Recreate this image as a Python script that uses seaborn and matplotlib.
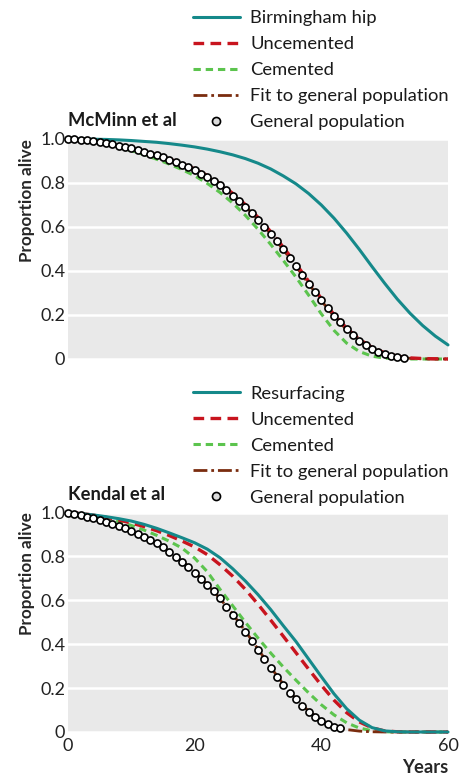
import numpy as np
import pandas as pd
import matplotlib
matplotlib.use("Agg")
import matplotlib.pyplot as plt
from matplotlib.lines import Line2D
import seaborn as sns

# years
dot_years_top = list(range(0, 54))
dot_years_bot = list(range(0, 44))
line_years = list(range(0, 61, 2))

# McMinn et al (top panel)
top_dots = [1.000, 0.999, 0.997, 0.994, 0.990, 0.986, 0.981, 0.976, 0.970, 0.964,
            0.957, 0.950, 0.942, 0.934, 0.925, 0.916, 0.906, 0.895, 0.884, 0.872,
            0.859, 0.843, 0.827, 0.809, 0.789, 0.766, 0.741, 0.716, 0.690, 0.663,
            0.634, 0.602, 0.568, 0.535, 0.500, 0.460, 0.422, 0.384, 0.343, 0.306,
            0.268, 0.233, 0.196, 0.166, 0.138, 0.110, 0.083, 0.063, 0.046, 0.032,
            0.021, 0.014, 0.009, 0.005]
top_bhr = [1.000, 1.000, 0.999, 0.998, 0.996, 0.993, 0.989, 0.985, 0.979, 0.972,
           0.964, 0.954, 0.942, 0.928, 0.911, 0.890, 0.864, 0.832, 0.796, 0.752,
           0.700, 0.640, 0.572, 0.498, 0.420, 0.344, 0.272, 0.208, 0.152, 0.104, 0.064]
top_unc = [1.000, 0.997, 0.991, 0.982, 0.971, 0.958, 0.944, 0.928, 0.909, 0.888,
           0.864, 0.834, 0.797, 0.753, 0.702, 0.644, 0.579, 0.508, 0.432, 0.353,
           0.275, 0.202, 0.140, 0.090, 0.053, 0.028, 0.013, 0.005, 0.002, 0.001, 0.000]
top_cem = [1.000, 0.995, 0.987, 0.976, 0.963, 0.947, 0.929, 0.908, 0.886, 0.861,
           0.833, 0.798, 0.757, 0.709, 0.653, 0.590, 0.521, 0.448, 0.372, 0.290,
           0.205, 0.130, 0.072, 0.034, 0.013, 0.004, 0.001, 0.000, 0.000, 0.000, 0.000]
top_fit = [1.000, 0.997, 0.990, 0.981, 0.970, 0.957, 0.942, 0.925, 0.906, 0.884,
           0.859, 0.829, 0.791, 0.746, 0.694, 0.635, 0.569, 0.497, 0.421, 0.342,
           0.265, 0.194, 0.133, 0.084, 0.048, 0.024, 0.010, 0.003, 0.001, 0.000, 0.000]

# Kendal et al (bottom panel)
bot_dots = [1.000, 0.995, 0.989, 0.981, 0.973, 0.966, 0.958, 0.949, 0.940, 0.929,
            0.916, 0.903, 0.890, 0.875, 0.860, 0.841, 0.821, 0.799, 0.776, 0.750,
            0.723, 0.697, 0.669, 0.641, 0.609, 0.571, 0.533, 0.495, 0.457, 0.415,
            0.374, 0.331, 0.290, 0.252, 0.214, 0.179, 0.149, 0.120, 0.092, 0.070,
            0.050, 0.035, 0.024, 0.017]
bot_res = [1.000, 0.995, 0.989, 0.981, 0.972, 0.961, 0.946, 0.928, 0.907, 0.885,
           0.862, 0.833, 0.794, 0.744, 0.688, 0.626, 0.558, 0.484, 0.412, 0.332,
           0.252, 0.174, 0.106, 0.054, 0.020, 0.005, 0.001, 0.000, 0.000, 0.000, 0.000]
bot_unc = [1.000, 0.996, 0.988, 0.978, 0.966, 0.952, 0.936, 0.917, 0.895, 0.870,
           0.843, 0.808, 0.762, 0.710, 0.650, 0.582, 0.510, 0.436, 0.361, 0.286,
           0.213, 0.145, 0.088, 0.046, 0.019, 0.005, 0.001, 0.000, 0.000, 0.000, 0.000]
bot_cem = [1.000, 0.995, 0.986, 0.974, 0.959, 0.941, 0.920, 0.896, 0.869, 0.838,
           0.792, 0.730, 0.650, 0.575, 0.500, 0.428, 0.360, 0.296, 0.236, 0.178,
           0.124, 0.078, 0.042, 0.018, 0.006, 0.001, 0.000, 0.000, 0.000, 0.000, 0.000]
bot_fit = [1.000, 0.990, 0.975, 0.958, 0.939, 0.916, 0.889, 0.858, 0.822, 0.779,
           0.729, 0.672, 0.608, 0.537, 0.460, 0.378, 0.295, 0.218, 0.150, 0.095,
           0.054, 0.027, 0.011, 0.004, 0.001, 0.000, 0.000, 0.000, 0.000, 0.000, 0.000]

y_ticks = [0, 0.2, 0.4, 0.6, 0.8, 1.0]
y_ticklabels = ["0", "0.2", "0.4", "0.6", "0.8", "1.0"]
x_ticks = [0, 20, 40, 60]

TEAL = "#15898a"
RED = "#c8141e"
GREEN = "#5cc44e"
BROWN = "#7a2c0e"
BG = "#e9e9e9"
DOTFACE = "#dcdcdc"
FS = 13.2

sns.set_theme(style="white")
plt.rcParams["font.family"] = ["Lato", "DejaVu Sans"]
plt.rcParams["text.color"] = "#1a1a1a"

fig = plt.figure(figsize=(4.59, 7.8), dpi=100)
ax_top = fig.add_axes([68 / 459, 1 - 359 / 780, 380 / 459, 220 / 780])
ax_bot = fig.add_axes([68 / 459, 1 - 732 / 780, 380 / 459, 219.5 / 780])

red_ls = (0, (3.2, 1.9))
green_ls = (0, (2.4, 1.6))
brown_ls = (0, (5.0, 1.4, 1.0, 1.4))


def draw_panel(ax, first, unc, cem, fit, dx, dots, title, first_label):
    ax.set_facecolor(BG)
    sns.lineplot(x=line_years, y=cem, ax=ax, color=GREEN, lw=2.2, linestyle=green_ls, clip_on=False, zorder=2)
    sns.lineplot(x=line_years, y=fit, ax=ax, color=BROWN, lw=2.0, linestyle=brown_ls, clip_on=False, zorder=3)
    sns.lineplot(x=line_years, y=unc, ax=ax, color=RED, lw=2.4, linestyle=red_ls, clip_on=False, zorder=4)
    sns.lineplot(x=line_years, y=first, ax=ax, color=TEAL, lw=2.2, clip_on=False, zorder=5)
    sns.scatterplot(x=dx, y=dots, ax=ax, s=26, color="white", edgecolor="black",
                    linewidth=1.2, clip_on=False, zorder=6)
    ax.set_xlim(0, 60)
    ax.set_ylim(0, 1.0)
    ax.set_yticks(y_ticks)
    ax.set_yticklabels(y_ticklabels)
    ax.set_xticks(x_ticks)
    ax.grid(axis="y", color="white", lw=1.8)
    ax.set_axisbelow(True)
    for s in ax.spines.values():
        s.set_visible(False)
    ax.tick_params(axis="y", length=0, pad=2, labelsize=13, labelcolor="#222222")
    ax.tick_params(axis="x", direction="in", length=4, width=1, color="white",
                   labelsize=13, labelcolor="#222222", pad=4)
    ax.set_ylabel("Proportion alive", fontsize=12.3, fontweight="bold", loc="top", labelpad=4)
    ax.text(0, 1.082, title, transform=ax.transAxes, fontsize=FS, fontweight="bold",
            va="center", ha="left")

    handles = [
        Line2D([], [], color=TEAL, lw=2.2),
        Line2D([], [], color=RED, lw=2.4, linestyle=red_ls),
        Line2D([], [], color=GREEN, lw=2.2, linestyle=green_ls),
        Line2D([], [], color=BROWN, lw=2.0, linestyle=brown_ls),
        Line2D([], [], ls="none", marker="o", markersize=5.8, markerfacecolor=DOTFACE,
               markeredgecolor="black", markeredgewidth=1.2),
    ]
    labels = [first_label, "Uncemented", "Cemented", "Fit to general population",
              "General population"]
    return handles, labels


h, l = draw_panel(ax_top, top_bhr, top_unc, top_cem, top_fit, dot_years_top, top_dots,
                  "McMinn et al", "Birmingham hip")
ax_top.set_xticklabels([])
ax_top.set_xlabel("")
fig.legend(h, l, loc="upper left", bbox_to_anchor=(193 / 459, 1 - 10 / 780),
           frameon=False, fontsize=FS, handlelength=2.56, handletextpad=0.55,
           labelspacing=0.55, borderpad=0, borderaxespad=0)

h, l = draw_panel(ax_bot, bot_res, bot_unc, bot_cem, bot_fit, dot_years_bot, bot_dots,
                  "Kendal et al", "Resurfacing")
ax_bot.set_xlabel("Years", fontsize=FS, fontweight="bold", loc="right", labelpad=4)
fig.legend(h, l, loc="upper left", bbox_to_anchor=(193 / 459, 1 - 385.5 / 780),
           frameon=False, fontsize=FS, handlelength=2.56, handletextpad=0.55,
           labelspacing=0.55, borderpad=0, borderaxespad=0)

fig.savefig("out.png", dpi=100)
